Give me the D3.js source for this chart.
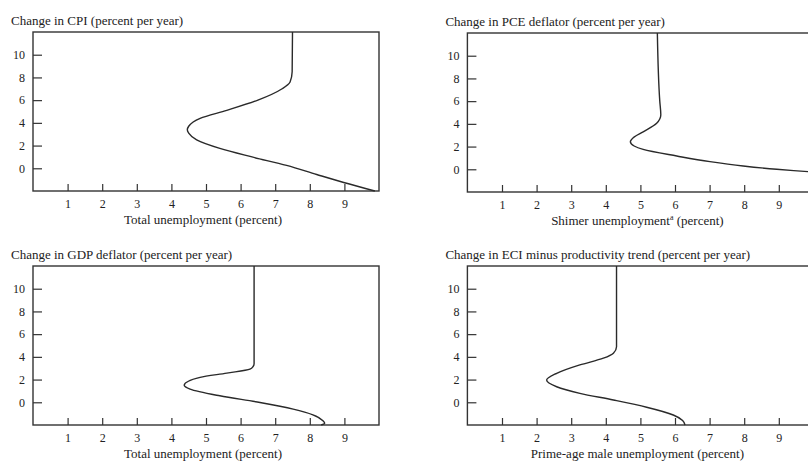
<!DOCTYPE html>
<html>
<head>
<meta charset="utf-8">
<script src="https://cdn.jsdelivr.net/npm/d3@7"></script>
<style>
body { margin: 0; background: #fff; }
svg { display: block; }
text { font-family: "Liberation Serif", "DejaVu Serif", serif; fill: #222; }
</style>
</head>
<body>
<div id="chart"></div>
<script>
// tick values shared by all four panels
var yTicks = [0, 2, 4, 6, 8, 10];
var xTicks = [1, 2, 3, 4, 5, 6, 7, 8, 9];

// change in inflation (y) and unemployment (x)
var cpiChange = [12, 8.5, 7.6, 7.0, 6.0, 5.1, 4.4, 3.7, 3.4, 3.1, 2.5, 1.75, 1.0, 0.25, -0.55, -1.25, -2];
var cpiUnemp  = [7.5, 7.49, 7.43, 7.2, 6.5, 5.6, 4.83, 4.5, 4.46, 4.5, 4.73, 5.4, 6.33, 7.33, 8.2, 8.98, 9.88];

var pceChange = [12, 6.0, 4.8, 4.05, 3.3, 2.8, 2.42, 2.05, 1.75, 1.17, 0.67, 0.29, 0.0, -0.21, -0.35];
var pceUnemp  = [5.49, 5.56, 5.59, 5.47, 5.08, 4.8, 4.71, 4.82, 5.08, 6.05, 7.01, 7.97, 8.94, 9.85, 10.4];

var gdpChange = [12, 3.4, 3.15, 2.92, 2.57, 2.19, 1.5, 1.16, 0.57, -0.02, -0.6, -1.1, -1.63, -1.85, -2];
var gdpUnemp  = [6.39, 6.39, 6.36, 6.27, 5.6, 4.83, 4.37, 4.54, 5.4, 6.56, 7.52, 8.09, 8.38, 8.43, 8.33];

var eciChange = [12, 4.9, 4.32, 3.88, 3.29, 2.55, 1.96, 1.37, 0.79, 0.2, -0.44, -1.12, -1.6, -2];
var eciUnemp  = [4.31, 4.31, 4.22, 3.93, 3.25, 2.58, 2.29, 2.58, 3.25, 4.22, 5.18, 5.95, 6.22, 6.29];

var panelTitles = [
	"Change in CPI (percent per year)",
	"Change in PCE deflator (percent per year)",
	"Change in GDP deflator (percent per year)",
	"Change in ECI minus productivity trend (percent per year)"
];
var axisTitles = [
	"Total unemployment (percent)",
	"Shimer unemployment",
	"Total unemployment (percent)",
	"Prime-age male unemployment (percent)"
];

var width = 346, height = 159;

var svg = d3.select("#chart")
	.append("svg")
	.attr("width", 808)
	.attr("height", 466);

function drawPanel(left, top, title, xTitle, change, unemp, footnote) {
	var x = d3.scaleLinear().domain([0, 10]).range([0, width]);
	var y = d3.scaleLinear().domain([-2, 12]).range([height, 0]);

	var g = svg.append("g")
		.attr("transform", "translate(" + left + "," + top + ")");

	// y axis, ticks pointing into the box
	var yAxis = g.append("g")
		.call(d3.axisLeft(y).tickValues(yTicks).tickSizeInner(-9).tickSizeOuter(0).tickPadding(8));
	// x axis, ticks pointing up
	var xAxis = g.append("g")
		.attr("transform", "translate(0," + height + ")")
		.call(d3.axisBottom(x).tickValues(xTicks).tickSizeInner(-7).tickSizeOuter(0).tickPadding(8));

	[yAxis, xAxis].forEach(function(a) {
		a.attr("font-family", null).attr("font-size", 12);
		a.select(".domain").remove();
		a.selectAll(".tick line").attr("stroke", "#333").attr("stroke-width", 1.2);
		a.selectAll(".tick text").style("fill", "#222");
	});

	// frame
	g.append("rect")
		.attr("width", width)
		.attr("height", height)
		.attr("fill", "none")
		.attr("stroke", "#333")
		.attr("stroke-width", 1.4);

	var line = d3.line()
		.x(function(d) { return x(d[1]); })
		.y(function(d) { return y(d[0]); })
		.curve(d3.curveMonotoneY);

	g.append("path")
		.datum(d3.zip(change, unemp))
		.attr("d", line)
		.attr("fill", "none")
		.attr("stroke", "#2a2a2a")
		.attr("stroke-width", 1.4);

	g.append("text")
		.attr("x", -22)
		.attr("y", -7)
		.attr("font-size", 13)
		.text(title);

	var t = g.append("text")
		.attr("x", 170)
		.attr("y", height + 33)
		.attr("text-anchor", "middle")
		.attr("font-size", 13)
		.text(xTitle);
	if (footnote) {
		t.append("tspan").attr("font-size", 8).attr("dy", -5).text("a");
		t.append("tspan").attr("dy", 5).text(" (percent)");
	}
}

drawPanel(33, 32, panelTitles[0], axisTitles[0], cpiChange, cpiUnemp, false);
drawPanel(467.4, 33, panelTitles[1], axisTitles[1], pceChange, pceUnemp, true);
drawPanel(33, 266, panelTitles[2], axisTitles[2], gdpChange, gdpUnemp, false);
drawPanel(467.4, 266, panelTitles[3], axisTitles[3], eciChange, eciUnemp, false);
</script>
</body>
</html>
